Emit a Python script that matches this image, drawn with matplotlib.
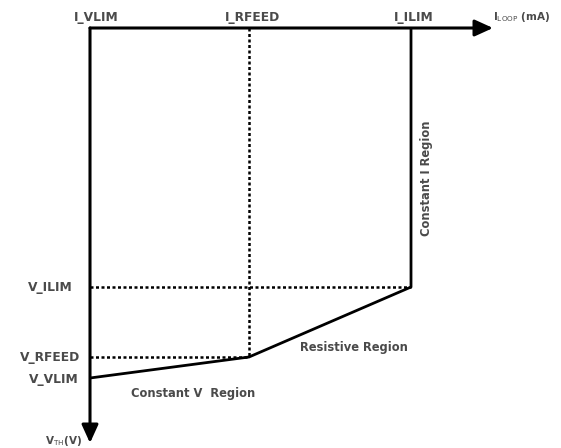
import matplotlib.pyplot as plt

# characteristic points (current along x, voltage downward along y), arbitrary units
currents = [0, 159, 321]            # I_VLIM, I_RFEED, I_ILIM
voltages = [350, 329, 259]          # V_VLIM, V_RFEED, V_ILIM
i_labels = ["I_VLIM", "I_RFEED", "I_ILIM"]
v_labels = ["V_VLIM", "V_RFEED", "V_ILIM"]

TXT = "#4a4a4a"
FONT = dict(family="DejaVu Sans", fontweight="bold", color=TXT)

fig = plt.figure(figsize=(5.61, 4.48), dpi=100)
ax = fig.add_axes([0, 0, 1, 1])
ax.set_xlim(-90, 471)
ax.set_ylim(420, -28)
ax.axis("off")

# axes with arrows
head = "-|>,head_length=1.1,head_width=0.5"
ax.annotate("", xy=(403, 0), xytext=(0, 0),
            arrowprops=dict(arrowstyle=head, lw=2.2, color="black", shrinkA=0, shrinkB=0))
ax.annotate("", xy=(0, 415), xytext=(0, 0),
            arrowprops=dict(arrowstyle=head, lw=2.2, color="black", shrinkA=0, shrinkB=0))

# characteristic curve
ax.plot([currents[0], currents[1], currents[2], currents[2]],
        [voltages[0], voltages[1], voltages[2], 0],
        color="black", lw=2.0, solid_capstyle="butt")

# dashed guides
dash = (0, (1.2, 1.0))
ax.plot([currents[1], currents[1]], [0, voltages[1]], color="black", lw=1.8, ls=dash)
ax.plot([0, currents[2]], [voltages[2], voltages[2]], color="black", lw=1.8, ls=dash)
ax.plot([0, currents[1]], [voltages[1], voltages[1]], color="black", lw=1.8, ls=dash)

# tick labels
for c, lab, dx in zip(currents, i_labels, [6, 4, 3]):
    ax.text(c + dx, -11, lab, ha="center", va="center", fontsize=8.8, **FONT)
for v, lab, dx in zip(voltages, v_labels, [-11, -10, -17]):
    ax.text(dx, v + 1, lab, ha="right", va="center", fontsize=8.8, **FONT)

ax.text(403, -11, r"I$_{\mathrm{LOOP}}$ (mA)", ha="left", va="center", fontsize=7.5, **FONT)
ax.text(-8, 413, r"V$_{\mathrm{TH}}$(V)", ha="right", va="center", fontsize=7.5, **FONT)

# region labels
ax.text(103, 365, "Constant V  Region", ha="center", va="center", fontsize=8.3, **FONT)
ax.text(264, 319, "Resistive Region", ha="center", va="center", fontsize=8.3, **FONT)
ax.text(337, 150, "Constant I Region", ha="center", va="center", rotation=90, fontsize=8.3, **FONT)

fig.savefig("out.png", dpi=100, facecolor="white")
